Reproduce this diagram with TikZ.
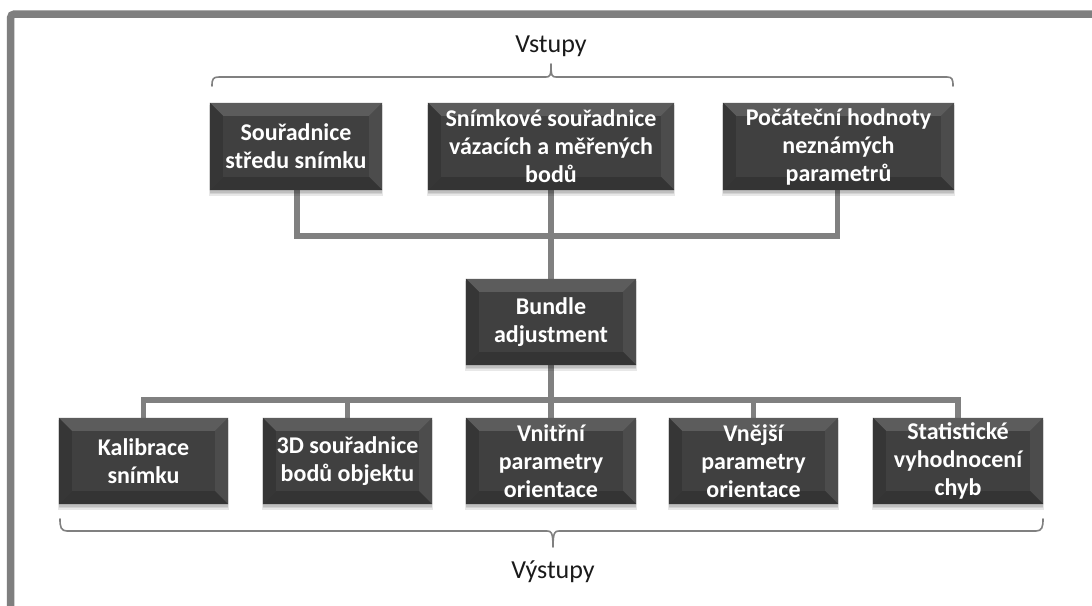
\documentclass[tikz,border=0pt]{standalone}
\usepackage{fontspec}
\setmainfont{Carlito}
\usetikzlibrary{calc}
\pgfdeclarelayer{bg}
\pgfdeclarelayer{paper}
\pgfsetlayers{paper,bg,main}
\definecolor{boxc}{HTML}{404040}
\definecolor{bevtop}{HTML}{5C5C5C}
\definecolor{bevleft}{HTML}{363636}
\definecolor{bevright}{HTML}{4C4C4C}
\definecolor{bevbot}{HTML}{343434}
\definecolor{linec}{HTML}{808080}
\definecolor{framec}{HTML}{7F7F7F}
\definecolor{txtc}{HTML}{1A1A1A}
\tikzset{
  bx/.style={text=white, font=\fontsize{24}{28}\selectfont\bfseries, align=center, inner sep=0pt, rectangle},
  conn/.style={draw=linec, line width=5.5pt},
  bracepath/.style={draw=linec, line width=1.6pt, line cap=round},
  lbl/.style={text=txtc, font=\fontsize{26}{30}\selectfont, inner sep=0pt},
  shad/.style={fill=black, fill opacity=0.09},
}
\newcommand\bbox[6]{%
  \node[bx, minimum width={(#4-#2)*1pt}, minimum height={(#5-#3)*1pt}] (#1) at ({(#2+#4)/2},{(#3+#5)/2}) {#6};
  \begin{pgfonlayer}{bg}
    \fill[shad] ($(#1.north west)+(-1,2)$) rectangle ($(#1.south east)+(1,6)$);
    \fill[shad] ($(#1.north west)+(0,2)$) rectangle ($(#1.south east)+(0,4)$);
    \fill[shad] ($(#1.north west)+(0,2)$) rectangle ($(#1.south east)+(0,2.5)$);
    \fill[boxc] (#1.north west) rectangle (#1.south east);
    \fill[bevtop] (#1.north west) -- (#1.north east) -- ($(#1.north east)+(-13,13)$) -- ($(#1.north west)+(13,13)$) -- cycle;
    \fill[bevleft] (#1.north west) -- ($(#1.north west)+(13,13)$) -- ($(#1.south west)+(13,-13)$) -- (#1.south west) -- cycle;
    \fill[bevright] (#1.north east) -- ($(#1.north east)+(-13,13)$) -- ($(#1.south east)+(-13,-13)$) -- (#1.south east) -- cycle;
    \fill[bevbot] (#1.south west) -- ($(#1.south west)+(13,-13)$) -- ($(#1.south east)+(-13,-13)$) -- (#1.south east) -- cycle;
  \end{pgfonlayer}
}
\begin{document}
\begin{tikzpicture}[x=1pt,y=-1pt]
\useasboundingbox (0,0) rectangle (1092,605);
\begin{pgfonlayer}{paper}
\fill[white] (0,0) rectangle (1092,605);
\end{pgfonlayer}
% frame
\draw[framec, line width=7.5pt, rounded corners=4pt] (10.5,610) -- (10.5,14) -- (1100,14);

% top boxes
\bbox{b1}{210}{103}{382}{190}{Souřadnice\\středu snímku}
\bbox{b2}{428}{103}{674}{190}{Snímkové souřadnice\\vázacích a měřených\\bodů}
\bbox{b3}{723}{103}{954}{190}{Počáteční hodnoty\\neznámých\\parametrů}
% bundle
\bbox{ba}{466}{279}{636}{365}{Bundle\\adjustment}
% bottom boxes
\bbox{o1}{59}{418}{228}{504}{Kalibrace\\snímku}
\bbox{o2}{263}{418}{432}{504}{3D souřadnice\\bodů objektu}
\bbox{o3}{466}{418}{636}{504}{Vnitřní\\parametry\\orientace}
\bbox{o4}{669}{418}{838}{504}{Vnější\\parametry\\orientace}
\bbox{o5}{873}{418}{1043}{504}{Statistické\\vyhodnocení\\chyb}

\coordinate (jt) at (551,236);
\coordinate (jb) at (551,400);
\begin{pgfonlayer}{paper}
\draw[conn] ($(b1.south)+(1,0)$) |- (jt) -| ($(b3.south)+(-1,0)$);
\draw[conn] (b2.south) -- (ba.north);
\draw[conn] (ba.south) -- (jb);
\draw[conn] (o1.north) |- (jb) -| (o5.north);
\draw[conn] (o2.north) -- (o2.north |- jb);
\draw[conn] (o3.north) -- (jb);
\draw[conn] (o4.north) -- (o4.north |- jb);
\end{pgfonlayer}

% braces
\draw[bracepath] (212,86) .. controls (212,79) and (213,77) .. (219,77) -- (546,77) .. controls (550,77) and (551,76) .. (551,64)
  (551,64) .. controls (551,76) and (552,77) .. (556,77) -- (947,77) .. controls (952,77) and (953,79) .. (953,86);
\draw[bracepath] (60,519) .. controls (60,527) and (61,531) .. (67,531) -- (547,531) .. controls (551,531) and (553,532) .. (553,547)
  (553,547) .. controls (553,532) and (555,531) .. (559,531) -- (1036,531) .. controls (1042,531) and (1043,527) .. (1043,519);

\node[lbl, anchor=base] (vst) at (551,52) {Vstupy};
\node[lbl, anchor=base] (vys) at (553,578) {Výstupy};
\end{tikzpicture}
\end{document}
